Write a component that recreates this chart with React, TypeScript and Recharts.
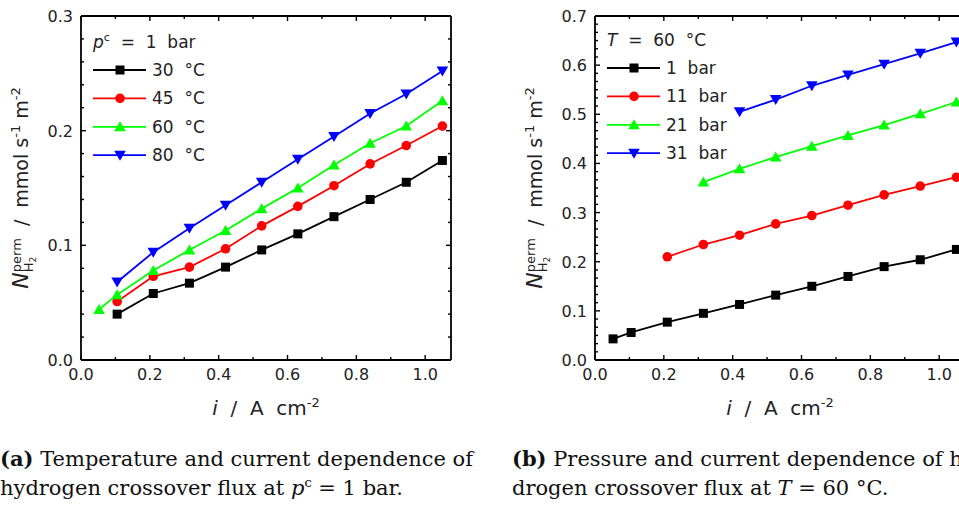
import React from 'react';
import { LineChart, Line, XAxis, YAxis, Legend } from 'recharts';

// current density i / A cm^-2 (shared by both panels)
const currentDensity = [0.0525, 0.105, 0.21, 0.315, 0.42, 0.525, 0.63, 0.735, 0.84, 0.945, 1.05];

// (a) p^c = 1 bar, different temperatures
const flux30C = [null, 0.040, 0.058, 0.067, 0.081, 0.096, 0.110, 0.125, 0.140, 0.155, 0.174];
const flux45C = [null, 0.051, 0.073, 0.081, 0.097, 0.117, 0.134, 0.152, 0.171, 0.187, 0.204];
const flux60C = [0.044, 0.057, 0.078, 0.096, 0.113, 0.132, 0.150, 0.170, 0.189, 0.204, 0.226];
const flux80C = [null, 0.068, 0.094, 0.115, 0.135, 0.155, 0.175, 0.195, 0.215, 0.232, 0.252];

// (b) T = 60 °C, different cathode pressures
const flux1bar = [0.043, 0.056, 0.077, 0.095, 0.113, 0.132, 0.150, 0.170, 0.190, 0.204, 0.225];
const flux11bar = [null, null, 0.210, 0.235, 0.254, 0.277, 0.294, 0.315, 0.336, 0.354, 0.372];
const flux21bar = [null, null, null, 0.362, 0.389, 0.413, 0.435, 0.457, 0.478, 0.501, 0.525];
const flux31bar = [null, null, null, null, 0.505, 0.530, 0.558, 0.580, 0.602, 0.624, 0.647];

const legendA = ['30 °C', '45 °C', '60 °C', '80 °C'];
const legendB = ['1 bar', '11 bar', '21 bar', '31 bar'];

// ticks: majors get labels, the rest are minor ticks
const xTicks = [0, 0.1, 0.2, 0.3, 0.4, 0.5, 0.6, 0.7, 0.8, 0.9, 1.0];
const yMajorA = [0, 0.1, 0.2, 0.3];
const yMajorB = [0, 0.1, 0.2, 0.3, 0.4, 0.5, 0.6, 0.7];

const withMinors = (majors: number[], perMajor: number) => {
    const out: number[] = [];
    for (let k = 0; k < majors.length - 1; k++) {
        const a = majors[k], b = majors[k + 1];
        for (let j = 0; j < perMajor; j++) out.push(a + (b - a) * j / perMajor);
    }
    out.push(majors[majors.length - 1]);
    return out;
};
const yTicksA = withMinors(yMajorA, 5);
const yTicksB = withMinors(yMajorB, 6);

const COLORS = ['#000000', '#ff0000', '#00ff00', '#0000ff'];
const SHAPES = ['square', 'circle', 'triangle', 'triangleDown'];
const FONT = '"DejaVu Sans", sans-serif';

const buildRows = (series: (number | null)[][]) =>
    currentDensity.map((i, k) => {
        const row: { [key: string]: number | null } = { i };
        series.forEach((s, n) => { row['s' + n] = s[k]; });
        return row;
    });

const dataA = buildRows([flux30C, flux45C, flux60C, flux80C]);
const dataB = buildRows([flux1bar, flux11bar, flux21bar, flux31bar]);

const Marker = ({ shape, cx, cy, color }: { shape: string; cx: number; cy: number; color: string }) => {
    if (shape === 'square') return <rect x={cx - 4.5} y={cy - 4.5} width={9} height={9} fill={color} />;
    if (shape === 'circle') return <circle cx={cx} cy={cy} r={4.8} fill={color} />;
    if (shape === 'triangle')
        return <polygon points={`${cx},${cy - 5.5} ${cx + 5.8},${cy + 4.5} ${cx - 5.8},${cy + 4.5}`} fill={color} />;
    return <polygon points={`${cx},${cy + 5.5} ${cx + 5.8},${cy - 4.5} ${cx - 5.8},${cy - 4.5}`} fill={color} />;
};

const makeDot = (shape: string, color: string) => (props: any) => {
    const { cx, cy, index, value } = props;
    if (cx == null || cy == null || value == null || isNaN(cy)) return <g key={index} />;
    return <Marker key={index} shape={shape} cx={cx} cy={cy} color={color} />;
};

const isMajor = (v: number, step: number) => Math.abs(v / step - Math.round(v / step)) < 1e-6;

const makeTick = (side: string, step: number, labels: boolean) => (props: any) => {
    const { x, y, payload } = props;
    const v = payload.value;
    const major = isMajor(v, step);
    const len = major ? 5 : 3;
    let line;
    if (side === 'bottom') line = <line x1={x} y1={y} x2={x} y2={y - len} />;
    else if (side === 'top') line = <line x1={x} y1={y} x2={x} y2={y + len} />;
    else if (side === 'left') line = <line x1={x} y1={y} x2={x + len} y2={y} />;
    else line = <line x1={x} y1={y} x2={x - len} y2={y} />;
    return (
        <g stroke="#000" strokeWidth={1.4}>
            {line}
            {labels && major && side === 'bottom' && (
                <text x={x} y={y + 20} textAnchor="middle" stroke="none" fill="#222" fontSize={16} fontFamily={FONT}>
                    {v.toFixed(1)}
                </text>
            )}
            {labels && major && side === 'left' && (
                <text x={x - 8} y={y + 6} textAnchor="end" stroke="none" fill="#222" fontSize={16} fontFamily={FONT}>
                    {v.toFixed(1)}
                </text>
            )}
        </g>
    );
};

const YTitle = (props: any) => {
    const { viewBox } = props;
    const cx = viewBox.x + viewBox.width - 53;
    const cy = viewBox.y + viewBox.height / 2;
    return (
        <text transform={`translate(${cx},${cy}) rotate(-90)`} textAnchor="middle" fontFamily={FONT} fontSize={19}
            fill="#222" style={{ whiteSpace: 'pre' }}>
            <tspan fontStyle="italic" fontSize={22}>N</tspan>
            <tspan fontSize={13} dy={5}>H</tspan>
            <tspan fontSize={9} dy={3}>2</tspan>
            <tspan fontSize={13} dx={-15.5} dy={-15}>perm</tspan>
            <tspan dy={7}>{'  /  mmol s'}</tspan>
            <tspan fontSize={13} dy={-8}>-1</tspan>
            <tspan dy={8}>{' m'}</tspan>
            <tspan fontSize={13} dy={-8}>-2</tspan>
        </text>
    );
};

const XTitle = (props: any) => {
    const { viewBox } = props;
    const cx = viewBox.x + viewBox.width / 2;
    return (
        <text x={cx} y={viewBox.y + 55} textAnchor="middle" fontFamily={FONT} fontSize={20} fill="#222"
            style={{ whiteSpace: 'pre' }}>
            <tspan fontStyle="italic">i</tspan>
            <tspan>{'  /  A  cm'}</tspan>
            <tspan fontSize={13} dy={-8}>-2</tspan>
        </text>
    );
};

const makeLegend = (title: React.ReactNode, names: string[]) => (props: any) => {
    const payload = props.payload || [];
    return (
        <svg width={110} height={140} style={{ overflow: 'visible', display: 'block' }}>
            <text x={1} y={22} fontFamily={FONT} fontSize={17} fill="#222" style={{ whiteSpace: 'pre' }}>{title}</text>
            {payload.map((p: any, k: number) => {
                const y = 44 + k * 28.4;
                return (
                    <g key={k}>
                        <line x1={1} x2={54} y1={y} y2={y} stroke={COLORS[k]} strokeWidth={1.8} />
                        <Marker shape={SHAPES[k]} cx={28} cy={y} color={COLORS[k]} />
                        <text x={60} y={y + 6} fontFamily={FONT} fontSize={17} fill="#222"
                            style={{ whiteSpace: 'pre' }}>{names[k].replace(' ', '  ')}</text>
                    </g>
                );
            })}
        </svg>
    );
};

const titleA = (
    <>
        <tspan fontStyle="italic">p</tspan>
        <tspan fontSize={11} dy={-7}>c</tspan>
        <tspan dy={7}>{'  =  1  bar'}</tspan>
    </>
);
const titleB = (
    <>
        <tspan fontStyle="italic">T</tspan>
        <tspan>{'  =  60  °C'}</tspan>
    </>
);

interface PanelProps {
    data: { [key: string]: number | null }[];
    width: number;
    leftWidth: number;
    yMax: number;
    yTicks: number[];
    legend: (props: any) => React.ReactNode;
    legendPos: { left: number; top: number };
}

const Panel = ({ data, width, leftWidth, yMax, yTicks, legend, legendPos }: PanelProps) => (
    <LineChart width={width} height={420} data={data} margin={{ top: 0, right: 0, bottom: 0, left: 0 }}>
        <XAxis xAxisId="b" dataKey="i" type="number" domain={[0, 1.075]} ticks={xTicks} interval={0}
            allowDataOverflow height={60} tickSize={0} tickMargin={0} tickLine={false}
            axisLine={{ stroke: '#000', strokeWidth: 1.8 }} tick={makeTick('bottom', 0.2, true)}
            label={<XTitle />} />
        <XAxis xAxisId="t" orientation="top" dataKey="i" type="number" domain={[0, 1.075]} ticks={xTicks}
            interval={0} allowDataOverflow height={16} tickSize={0} tickMargin={0} tickLine={false}
            axisLine={{ stroke: '#000', strokeWidth: 1.8 }} tick={makeTick('top', 0.2, false)} />
        <YAxis yAxisId="l" type="number" domain={[0, yMax]} ticks={yTicks} interval={0} allowDataOverflow
            width={leftWidth} tickSize={0} tickMargin={0} tickLine={false}
            axisLine={{ stroke: '#000', strokeWidth: 1.8 }} tick={makeTick('left', 0.1, true)}
            label={<YTitle />} />
        <YAxis yAxisId="r" orientation="right" type="number" domain={[0, yMax]} ticks={yTicks} interval={0}
            allowDataOverflow width={29} tickSize={0} tickMargin={0} tickLine={false}
            axisLine={{ stroke: '#000', strokeWidth: 1.8 }} tick={makeTick('right', 0.1, false)} />
        <Legend layout="vertical" align="center" verticalAlign="middle" content={legend}
            wrapperStyle={{ left: legendPos.left, top: legendPos.top, width: 120 }} />
        {[0, 1, 2, 3].map(n => (
            <Line key={n} xAxisId="b" yAxisId="l" dataKey={'s' + n} type="linear" stroke={COLORS[n]}
                strokeWidth={1.8} dot={makeDot(SHAPES[n], COLORS[n])} activeDot={false}
                isAnimationActive={false} />
        ))}
    </LineChart>
);

const captionStyle: React.CSSProperties = {
    position: 'absolute',
    top: 444,
    fontFamily: '"DejaVu Serif", serif',
    fontSize: 21,
    lineHeight: '29px',
    whiteSpace: 'nowrap',
    color: '#111',
};

const supStyle: React.CSSProperties = { fontSize: 13, position: 'relative', top: -8, lineHeight: 0 };

export default function App() {
    return (
        <div style={{ position: 'fixed', left: 0, top: 0, width: 959, height: 508, overflow: 'hidden', background: '#fff' }}>
            <div style={{ position: 'absolute', left: 0, top: 0 }}>
                <Panel data={dataA} width={480} leftWidth={81} yMax={0.3} yTicks={yTicksA}
                    legend={makeLegend(titleA, legendA)} legendPos={{ left: 92, top: 26 }} />
            </div>
            <div style={{ position: 'absolute', left: 480, top: 0 }}>
                <Panel data={dataB} width={514} leftWidth={115} yMax={0.7} yTicks={yTicksB}
                    legend={makeLegend(titleB, legendB)} legendPos={{ left: 126, top: 24 }} />
            </div>
            <div style={{ ...captionStyle, left: 0 }}>
                <div><b>(a)</b> Temperature and current dependence of</div>
                <div>hydrogen crossover flux at <i>p</i><span style={supStyle}>c</span> = 1 bar.</div>
            </div>
            <div style={{ ...captionStyle, left: 512 }}>
                <div><b>(b)</b> Pressure and current dependence of hy-</div>
                <div>drogen crossover flux at <i>T</i> = 60 °C.</div>
            </div>
        </div>
    );
}
